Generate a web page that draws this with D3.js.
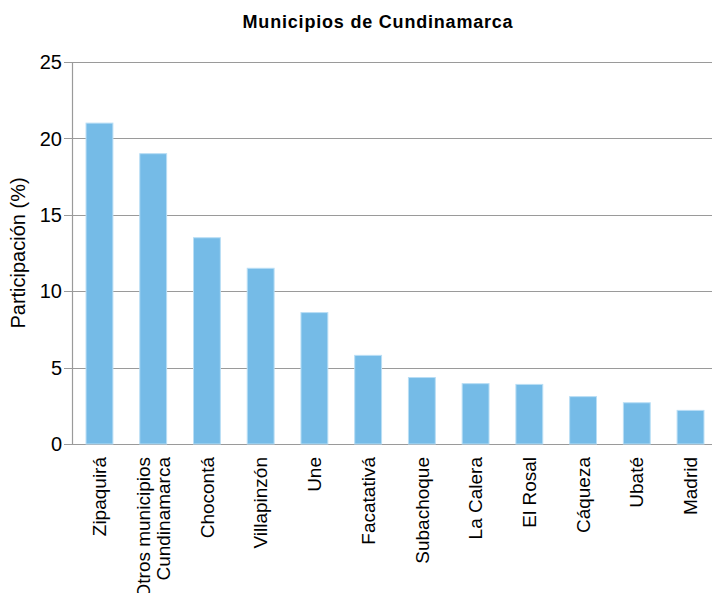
<!DOCTYPE html>
<html>
<head>
<meta charset="utf-8">
<script src="https://cdn.jsdelivr.net/npm/d3@7"></script>
<style>
  body { margin: 0; background: #fff; }
  text { font-family: "Liberation Sans", Arial, sans-serif; fill: #000; }
</style>
</head>
<body>
<script>
var municipios = ["Zipaquirá", "Otros municipios\nCundinamarca", "Chocontá", "Villapinzón", "Une",
  "Facatativá", "Subachoque", "La Calera", "El Rosal", "Cáqueza", "Ubaté", "Madrid"];
var participacion = [21.0, 19.0, 13.5, 11.5, 8.6, 5.8, 4.35, 3.95, 3.9, 3.1, 2.7, 2.2];
var yTicks = [0, 5, 10, 15, 20, 25];

var width = 712, height = 593;
var margin = {top: 62, bottom: 149, left: 72};

var svg = d3.select("body").append("svg")
  .attr("width", width)
  .attr("height", height);

// band range runs a little past the right edge, like the original
var x = d3.scaleBand()
  .domain(d3.range(municipios.length))
  .range([72.6, 717.4])
  .paddingInner(0.5)
  .paddingOuter(0.25);

var y = d3.scaleLinear()
  .domain([0, 25])
  .range([height - margin.bottom, margin.top]);

// title
svg.append("text")
  .attr("x", 378)
  .attr("y", 28)
  .attr("text-anchor", "middle")
  .style("font-weight", "bold")
  .style("font-size", "18px")
  .style("letter-spacing", "0.8px")
  .text("Municipios de Cundinamarca");

// gridlines
svg.append("g")
  .selectAll("line")
  .data(yTicks)
  .enter().append("line")
    .attr("x1", margin.left - 8)
    .attr("x2", width)
    .attr("y1", function(d){ return Math.round(y(d)) + 0.5; })
    .attr("y2", function(d){ return Math.round(y(d)) + 0.5; })
    .attr("stroke", "#9a9a9a")
    .attr("stroke-width", 1.2);

// y axis line
svg.append("line")
  .attr("x1", margin.left + 0.5)
  .attr("x2", margin.left + 0.5)
  .attr("y1", y(25))
  .attr("y2", y(0))
  .attr("stroke", "#9a9a9a")
  .attr("stroke-width", 1.2);

// tick labels
svg.append("g")
  .selectAll("text")
  .data(yTicks)
  .enter().append("text")
    .attr("x", margin.left - 10)
    .attr("y", function(d){ return y(d); })
    .attr("dy", "0.36em")
    .attr("text-anchor", "end")
    .style("font-size", "20px")
    .text(function(d){ return d; });

// bars
svg.append("g")
  .selectAll("rect")
  .data(participacion)
  .enter().append("rect")
    .attr("x", function(d, i){ return x(i); })
    .attr("width", x.bandwidth())
    .attr("y", function(d){ return y(d); })
    .attr("height", function(d){ return y(0) - y(d); })
    .attr("fill", "#75bbe7")
    .attr("stroke", "#b9def5")
    .attr("stroke-width", 1);

// category labels
var labels = svg.append("g")
  .selectAll("text")
  .data(municipios)
  .enter().append("text")
    .attr("transform", function(d, i){
      return "translate(" + (x(i) + x.bandwidth() / 2) + "," + (y(0) + 13) + ") rotate(-90)";
    })
    .attr("text-anchor", "end")
    .style("font-size", "19px");

labels.each(function(d){
  var lines = d.split("\n");
  var t = d3.select(this);
  lines.forEach(function(l, k){
    t.append("tspan")
      .attr("x", 0)
      .attr("y", (k - (lines.length - 1) / 2) * 19.5)
      .attr("dy", "0.35em")
      .text(l);
  });
});

// y axis title
svg.append("text")
  .attr("transform", "translate(25," + ((y(0) + y(25)) / 2) + ") rotate(-90)")
  .attr("text-anchor", "middle")
  .style("font-size", "20px")
  .text("Participación (%)");
</script>
</body>
</html>
